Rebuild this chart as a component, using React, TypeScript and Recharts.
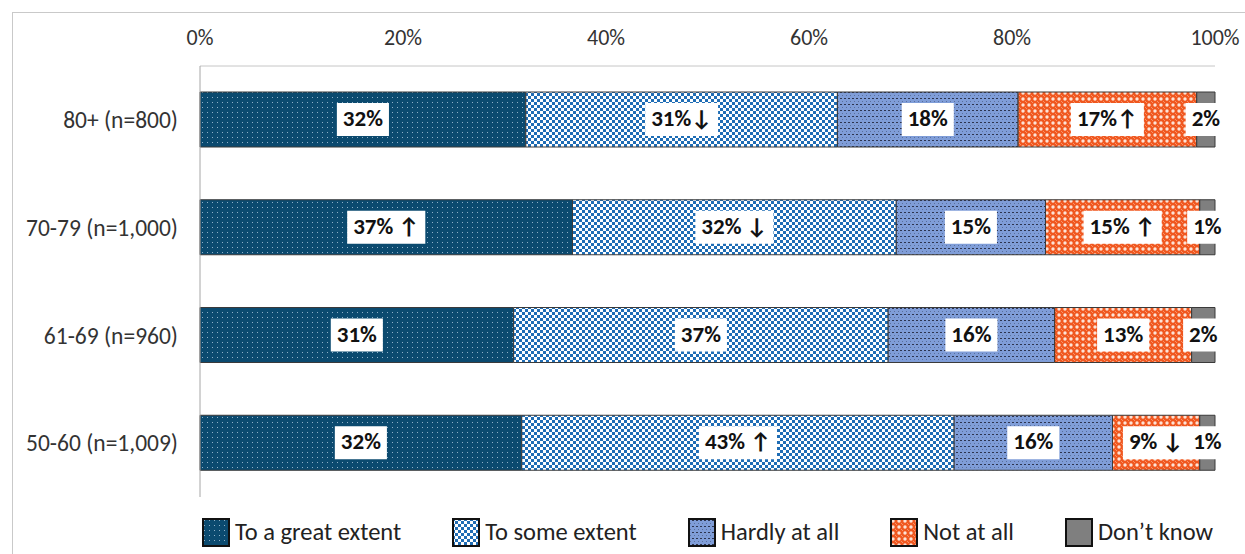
import React from 'react'
import { BarChart, Bar, XAxis, YAxis, Legend, LabelList } from 'recharts'

const categories = ['80+ (n=800)', '70-79 (n=1,000)', '61-69 (n=960)', '50-60 (n=1,009)']
const greatExtent = [32.1, 36.7, 30.9, 31.7]
const someExtent = [30.7, 31.9, 36.9, 42.6]
const hardlyAtAll = [17.8, 14.7, 16.4, 15.6]
const notAtAll = [17.6, 15.2, 13.5, 8.6]
const dontKnow = [1.8, 1.5, 2.3, 1.5]

const greatLabels = ['32%', '37% ↑', '31%', '32%']
const someLabels = ['31%↓', '32% ↓', '37%', '43% ↑']
const hardlyLabels = ['18%', '15%', '16%', '16%']
const notLabels = ['17%↑', '15% ↑', '13%', '9% ↓']
const dkLabels = ['2%', '1%', '2%', '1%']

const xTicks = [0, 20, 40, 60, 80, 100]

const data = categories.map((age, i) => ({
  age,
  great: greatExtent[i],
  some: someExtent[i],
  hardly: hardlyAtAll[i],
  notAtAll: notAtAll[i],
  dk: dontKnow[i],
  greatLbl: greatLabels[i],
  someLbl: someLabels[i],
  hardlyLbl: hardlyLabels[i],
  notLbl: notLabels[i],
  dkLbl: dkLabels[i],
}))

const series = [
  { key: 'great', lbl: 'greatLbl', name: 'To a great extent', fill: 'url(#pGreat)' },
  { key: 'some', lbl: 'someLbl', name: 'To some extent', fill: 'url(#pSome)' },
  { key: 'hardly', lbl: 'hardlyLbl', name: 'Hardly at all', fill: 'url(#pHardly)' },
  { key: 'notAtAll', lbl: 'notLbl', name: 'Not at all', fill: 'url(#pNot)' },
  { key: 'dk', lbl: 'dkLbl', name: 'Don\u2019t know', fill: '#7f7f7f' },
]

const FONT = 'Carlito, Calibri, Lato, "Open Sans", sans-serif'
const LABEL_FONT_SIZE = 23

let ctx: CanvasRenderingContext2D | null = null
const measure = (s: string) => {
  if (!ctx) ctx = document.createElement('canvas').getContext('2d')
  if (!ctx) return s.length * 13
  ctx.font = `bold ${LABEL_FONT_SIZE}px ${FONT}`
  return ctx.measureText(s).width
}

// white box + bold text, centred on the segment
const BoxLabel = (props: any) => {
  const { x, y, width, height, value } = props
  if (value == null) return null
  const cx = Number(x) + Number(width) / 2
  const cy = Number(y) + Number(height) / 2
  const w = measure(String(value)) + 12
  const h = 33
  return (
    <g>
      <rect x={cx - w / 2} y={cy - h / 2} width={w} height={h} fill="#fff" />
      <text
        x={cx}
        y={cy + 1}
        textAnchor="middle"
        dominantBaseline="middle"
        fontFamily={FONT}
        fontWeight="bold"
        fontSize={LABEL_FONT_SIZE}
        fill="#111"
      >
        {value}
      </text>
    </g>
  )
}

const renderLegend = () => {
  return (
    <ul style={{ display: 'flex', margin: 0, padding: 0, listStyle: 'none', gap: 51 }}>
      {series.map((s) => (
        <li key={s.key} style={{ display: 'flex', alignItems: 'center', gap: 5 }}>
          <svg width={28} height={29}>
            <rect x={1} y={1} width={26} height={27} fill={s.fill} stroke="#111" strokeWidth={2} />
          </svg>
          <span style={{ fontFamily: FONT, fontSize: 24.5, color: '#222' }}>{s.name}</span>
        </li>
      ))}
    </ul>
  )
}

const Patterns = () => (
  <svg width={0} height={0} style={{ position: 'absolute' }}>
    <defs>
      <pattern id="pGreat" width={5} height={5} patternUnits="userSpaceOnUse">
        <rect width={5} height={5} fill="#0b4a6f" />
        <rect x={2} y={2} width={1} height={1} fill="#8fb0c8" />
      </pattern>
      <pattern id="pSome" width={6} height={6} patternUnits="userSpaceOnUse">
        <rect width={6} height={6} fill="#fff" />
        <rect x={0} y={0} width={3} height={3} fill="#1f6db5" />
        <rect x={3} y={3} width={3} height={3} fill="#1f6db5" />
      </pattern>
      <pattern id="pHardly" width={4} height={6} patternUnits="userSpaceOnUse">
        <rect width={4} height={6} fill="#7f9dd8" />
        <rect x={0} y={2} width={2} height={1} fill="#2d3550" />
        <rect x={2} y={5} width={1} height={1} fill="#5a6f9c" />
      </pattern>
      <pattern id="pNot" width={6} height={6} patternUnits="userSpaceOnUse">
        <rect width={6} height={6} fill="#f0571f" />
        <circle cx={3} cy={3} r={1.7} fill="#fde3d6" />
        <circle cx={0} cy={0} r={1} fill="#f8a886" />
        <circle cx={6} cy={6} r={1} fill="#f8a886" />
      </pattern>
    </defs>
  </svg>
)

function App() {
  return (
    <div style={{ position: 'absolute', left: 0, top: 0, width: 1245, height: 554, overflow: 'hidden', background: '#fff' }}>
      <Patterns />
      <div
        style={{
          position: 'absolute',
          left: 12,
          top: 12,
          width: 1260,
          height: 580,
          border: '1px solid #c9c9c9',
        }}
      />
      <div style={{ position: 'absolute', left: 0, top: 0 }}>
        <BarChart
          width={1245}
          height={554}
          layout="vertical"
          data={data}
          margin={{ top: 36, right: 30, left: 0, bottom: 57 }}
          barSize={55}
        >
          <XAxis
            type="number"
            orientation="top"
            domain={[0, 100]}
            ticks={xTicks}
            tickFormatter={(v) => `${v}%`}
            height={30}
            axisLine={{ stroke: '#c6c6c6' }}
            tickLine={false}
            tickSize={0}
            tickMargin={21}
            tick={{ fill: '#333', fontSize: 22, fontFamily: FONT }}
          />
          <YAxis
            type="category"
            dataKey="age"
            width={200}
            axisLine={{ stroke: '#a6a6a6' }}
            tickLine={false}
            tickSize={0}
            tickMargin={22}
            tick={{ fill: '#333', fontSize: 23.5, fontFamily: FONT }}
          />
          <Legend
            content={renderLegend}
            layout="horizontal"
            verticalAlign="middle"
            align="center"
            wrapperStyle={{ position: 'absolute', left: 202, top: 517, width: 'auto', height: 'auto' }}
          />
          {series.map((s) => (
            <Bar
              key={s.key}
              dataKey={s.key}
              name={s.name}
              stackId="a"
              fill={s.fill}
              stroke="#3a3a3a"
              strokeWidth={1}
              isAnimationActive={false}
            >
              <LabelList dataKey={s.lbl} content={BoxLabel} />
            </Bar>
          ))}
        </BarChart>
      </div>
    </div>
  )
}

export default App
